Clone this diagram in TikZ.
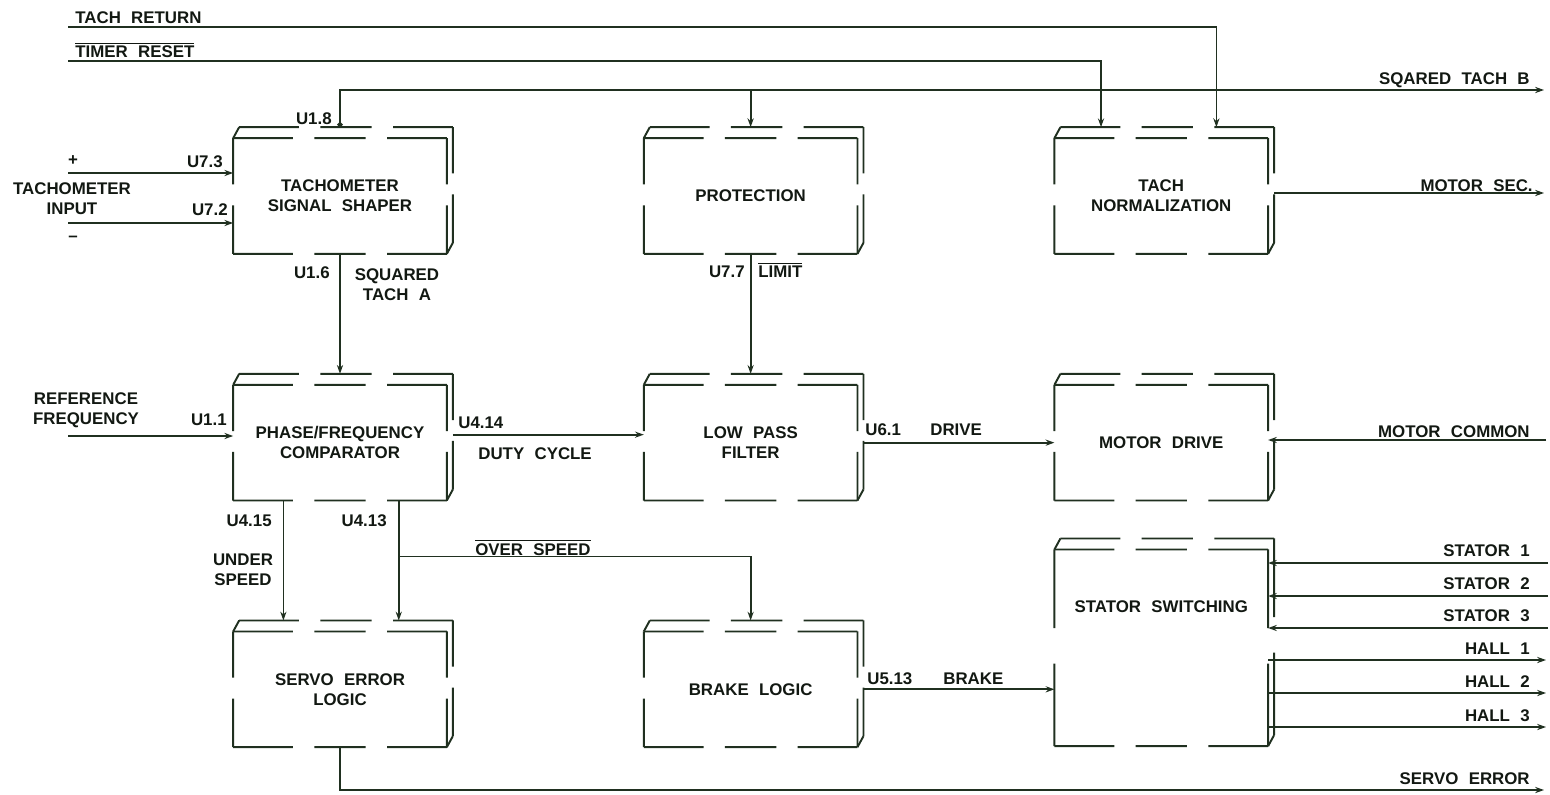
\documentclass[tikz,border=0pt]{standalone}
\usepackage{fontspec}
\setmainfont{Liberation Sans}[WordSpace=2.2]
\usetikzlibrary{arrows.meta, positioning, calc}
\definecolor{InkGreen}{RGB}{32,48,32}
\definecolor{TextDark}{RGB}{18,24,18}
\newcommand{\sigfont}{\fontsize{9.6}{11.5}\selectfont\bfseries}
\newcommand{\ovl}[1]{$\overline{\mbox{#1}}$}
% broken 3-D outline round a block node
\newcommand{\blockframe}[1]{%
  \coordinate (#1-bnw) at ($(#1.north west)+(6,-11)$);
  \coordinate (#1-bne) at ($(#1.north east)+(6,-11)$);
  \coordinate (#1-bse) at ($(#1.south east)+(6,-11)$);
  \foreach \a/\b in {#1.north west/#1.north east,#1-bnw/#1-bne,#1.south west/#1.south east}
    \draw[frame] (\a) -- ($(\a)!.28!(\b)$) ($(\a)!.38!(\b)$) -- ($(\a)!.62!(\b)$) ($(\a)!.72!(\b)$) -- (\b);
  \foreach \a/\b in {#1.north west/#1.south west,#1.north east/#1.south east,#1-bne/#1-bse}
    \draw[frame] (\a) -- ($(\a)!.4!(\b)$) ($(\a)!.58!(\b)$) -- (\b);
  \draw[frame] (#1.north west) -- (#1-bnw) (#1.south east) -- (#1-bse);
}
\tikzset{
  blockbox/.style={rectangle,inner sep=0pt,minimum width=4.26cm,minimum height=2.3cm,
    align=center,font=\sigfont,text=TextDark},
  frame/.style={line width=1.1pt,draw=InkGreen},
  wire/.style={line width=1pt,draw=InkGreen},
  sig/.style={wire,-{Stealth[length=5pt,width=3.5pt]}},
  tap/.style={wire,{Circle[length=3pt]}-{Stealth[length=5pt,width=3.5pt]}},
  lbl/.style={inner sep=0pt,font=\sigfont,text=TextDark}
}
\begin{document}
\begin{tikzpicture}[x=0.02cm,y=-0.02cm,node distance=2.62cm and 3.94cm]
  \useasboundingbox (0,0) rectangle (1550,794);
  % blocks
  \node[blockbox] (tss) at (340,196) {TACHOMETER\\SIGNAL SHAPER};
  \node[blockbox,right=of tss] (prot) {PROTECTION};
  \node[blockbox,right=of prot] (tnorm) {TACH\\NORMALIZATION};
  \node[blockbox,below=of tss] (pfc) {PHASE/FREQUENCY\\COMPARATOR};
  \node[blockbox,right=of pfc] (lpf) {LOW PASS\\FILTER};
  \node[blockbox,right=of lpf] (mdrv) {MOTOR DRIVE};
  \node[blockbox,below=of pfc] (serr) {SERVO ERROR\\LOGIC};
  \node[blockbox,right=of serr] (brk) {BRAKE LOGIC};
  \node[blockbox,below=0.98cm of mdrv,minimum height=3.92cm,text depth=1.65cm] (ssw) {STATOR SWITCHING};
  \foreach \n in {tss,prot,tnorm,pfc,lpf,mdrv,serr,brk,ssw} \blockframe{\n};

  % top bus
  \coordinate (trIn) at (68,27);
  \coordinate (rsIn) at (68,61);
  \coordinate (stbOut) at (1544,90);
  \coordinate (trTap) at ($(tnorm-bnw)!.73!(tnorm-bne)$);
  \coordinate (rsTap) at ($(tnorm-bnw)!.19!(tnorm-bne)$);
  \coordinate (u18) at ($(tss.north)+(0,-11)$);
  \draw[sig] (trIn) -| (trTap);
  \draw[sig] (rsIn) -| (rsTap);
  \draw[tap] (u18) |- (stbOut);
  \draw[sig] (stbOut -| prot.north) -- (prot.north |- prot-bnw);
  \node[lbl,anchor=base west] (lTachRet) at (75,24) {TACH RETURN};
  \node[lbl,anchor=base west] (lTimer) at (75,58) {\ovl{TIMER RESET}};
  \node[lbl,anchor=base east] (lSqB) at (1530,85) {SQARED TACH B};
  \node[lbl,anchor=base east] (lU18) at (332,124) {U1.8};

  % tachometer input
  \coordinate (tpIn) at (68,173);
  \coordinate (tmIn) at (68,223);
  \draw[sig] (tpIn) -- (tpIn -| tss.west);
  \draw[sig] (tmIn) -- (tmIn -| tss.west);
  \node[lbl] (lPlus) at (73,161) {+};
  \node[lbl,align=center] (lTin) at (72,199) {TACHOMETER\\INPUT};
  \node[lbl] (lMinus) at (73,239) {--};
  \node[lbl,anchor=base east] (lU73) at (223,167) {U7.3};
  \node[lbl,anchor=base east] (lU72) at (228,215) {U7.2};

  % first row to second row
  \draw[sig] (tss.south) -- (tss.south |- pfc-bnw);
  \node[lbl,anchor=base east] (lU16) at (330,278) {U1.6};
  \node[lbl,align=center] (lSqA) at (397,285) {SQUARED\\TACH A};
  \draw[sig] (prot.south) -- (prot.south |- lpf-bnw);
  \node[lbl,anchor=base east] (lU77) at (745,277) {U7.7};
  \node[lbl,anchor=base west] (lLim) at (758,277) {\ovl{LIMIT}};
  \coordinate (msOut) at (1544,193);
  \draw[sig] (tnorm-bne |- msOut) -- (msOut);
  \node[lbl,anchor=base east] (lMSec) at (1533,191) {MOTOR SEC.};

  % second row
  \coordinate (rfIn) at (68,436);
  \draw[sig] (rfIn) -- (rfIn -| pfc.west);
  \node[lbl,align=center] (lRef) at (86,410) {REFERENCE\\FREQUENCY};
  \node[lbl,anchor=base east] (lU11) at (227,425) {U1.1};
  \draw[sig] ($(pfc-bne |- pfc.east)+(0,-8)$) -- ($(lpf.west)+(0,-8)$);
  \node[lbl,anchor=base west] (lU414) at (458,428) {U4.14};
  \node[lbl,anchor=base west] (lDuty) at (478,459) {DUTY CYCLE};
  \draw[sig] (lpf-bne |- mdrv.west) -- (mdrv.west);
  \node[lbl,anchor=base west] (lU61) at (865,435) {U6.1};
  \node[lbl,anchor=base west] (lDrive) at (930,435) {DRIVE};
  \coordinate (mcIn) at (1546,440);
  \draw[sig] (mcIn) -- (mcIn -| mdrv.east);
  \node[lbl,anchor=base east] (lMCom) at (1530,437) {MOTOR COMMON};

  % second row to third row
  \coordinate (us) at ($(pfc.south west)!.235!(pfc.south east)$);
  \coordinate (os) at ($(pfc.south west)!.775!(pfc.south east)$);
  \coordinate (osTurn) at ($(os)+(0,56)$);
  \draw[sig] (us) -- (us |- serr-bnw);
  \draw[sig] (os) -- (os |- serr-bnw);
  \draw[sig] (osTurn) -| (brk.north |- brk-bnw);
  \node[lbl,anchor=base east] (lU415) at (272,526) {U4.15};
  \node[lbl,anchor=base east] (lU413) at (387,526) {U4.13};
  \node[lbl,align=center] (lUnder) at (243,570) {UNDER\\SPEED};
  \node[lbl,anchor=base west] (lOver) at (475,555) {\ovl{OVER SPEED}};

  % third row
  \draw[sig] (brk-bne |- brk.east) -- (brk.east -| ssw.west);
  \node[lbl,anchor=base west] (lU513) at (867,684) {U5.13};
  \node[lbl,anchor=base west] (lBrake) at (943,684) {BRAKE};
  \coordinate (seOut) at (1544,790);
  \draw[sig] (serr.south) |- (seOut);
  \node[lbl,anchor=base east] (lSErr) at (1530,784) {SERVO ERROR};
  \foreach \y/\t/\i in {563/STATOR 1/s1,596/STATOR 2/s2,628/STATOR 3/s3}{
    \coordinate (\i) at (1548,\y);
    \draw[sig] (\i) -- (\i -| ssw.east);
    \node[lbl,anchor=base east] (l\i) at (1530,\y-7) {\t};}
  \foreach \y/\t/\i in {660/HALL 1/h1,693/HALL 2/h2,727/HALL 3/h3}{
    \coordinate (\i) at (1546,\y);
    \draw[sig] (\i -| ssw.east) -- (\i);
    \node[lbl,anchor=base east] (l\i) at (1530,\y-6) {\t};}
\end{tikzpicture}
\end{document}
